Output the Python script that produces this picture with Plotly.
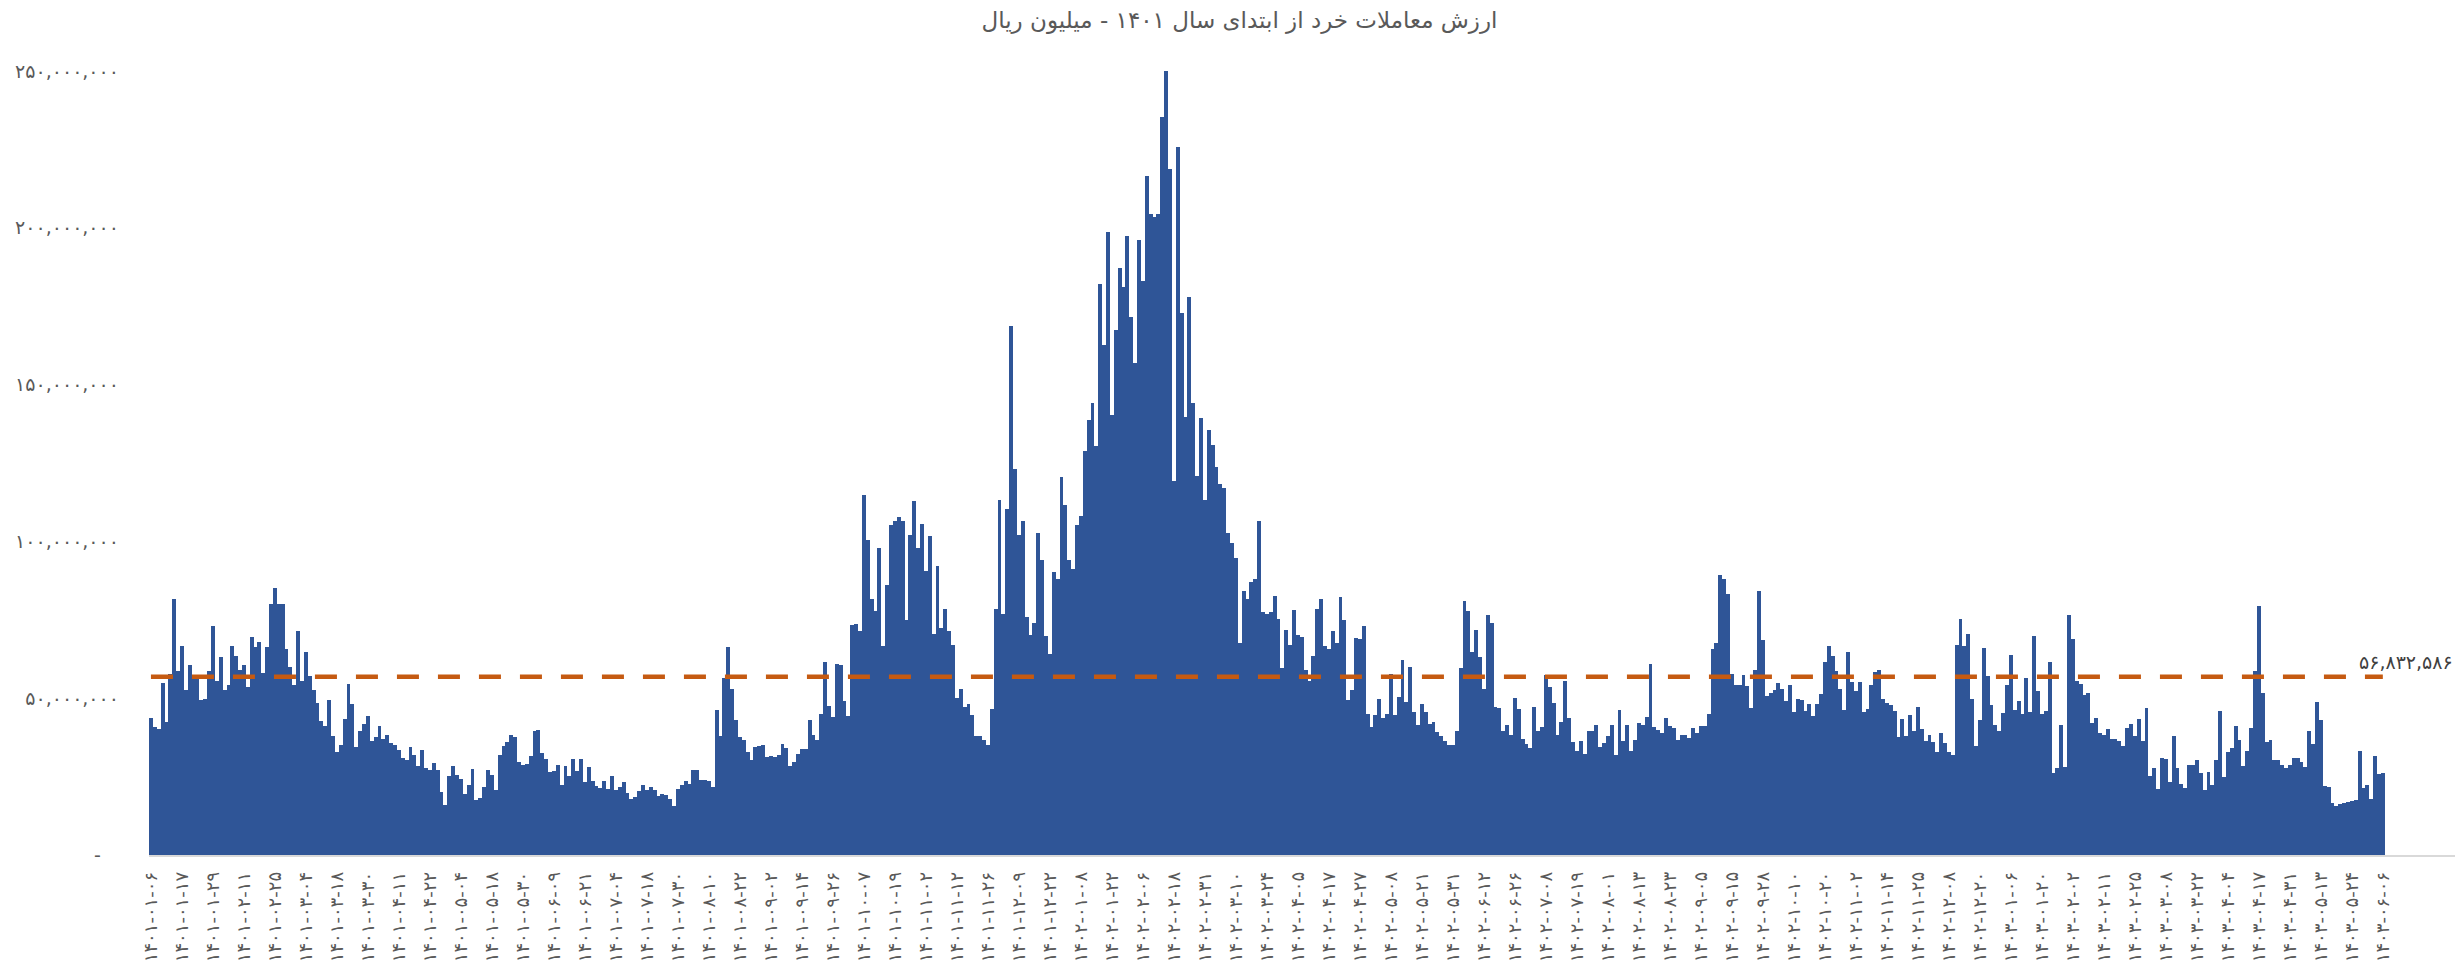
import plotly.graph_objects as go

# ---- Data (values in million rials) ----
values_part1 = [43.7, 40.8, 40.2, 54.8, 42.3, 57.7, 81.7, 58.6, 66.7, 52.7,
                60.7, 57.0, 56.4, 49.5, 49.8, 58.6, 72.9, 55.4, 63.0, 52.7,
                54.1, 66.7, 63.5, 58.9, 60.5, 53.5, 69.6, 66.2, 67.8, 58.0,
                66.3, 80.0, 85.1, 80.0, 80.0, 65.7, 59.9, 54.3, 71.3, 55.4,
                64.6, 57.0, 52.7, 48.5, 42.6, 41.0, 49.4, 38.0, 32.7, 35.2,
                43.5, 54.5, 48.1, 34.4, 39.7, 41.9, 44.4, 36.2, 37.5, 41.0,
                37.1, 38.2, 35.7, 35.2, 33.4, 30.9, 30.4, 34.3, 32.0, 28.3,
                33.5, 27.9, 27.2, 29.2, 27.2, 20.1, 16.0, 25.3, 28.4, 25.4,
                24.3, 19.4, 22.4, 27.4, 17.6, 18.2, 21.6, 27.2, 25.6, 20.6,
                32.0, 34.6, 36.0, 38.3, 37.6, 29.6, 28.8]

values_part2 = [29.1, 31.5, 39.6, 40.0, 32.5, 30.6, 26.5, 26.9, 28.6, 22.4,
                28.5, 25.1, 30.7, 26.7, 30.6, 23.2, 28.1, 23.5, 22.1, 21.4,
                23.5, 21.0, 25.1, 20.6, 21.6, 23.2, 19.8, 17.9, 18.4, 20.3,
                22.2, 20.8, 21.7, 20.6, 18.9, 19.6, 19.2, 18.0, 15.7, 21.1,
                22.4, 23.5, 22.6, 27.2, 27.2, 24.0, 23.8, 23.7, 21.7, 46.3,
                37.8, 56.4, 66.2, 52.9, 43.1, 37.5, 36.6, 32.7, 30.4, 34.4,
                34.6, 35.0, 31.1, 31.5, 31.1, 32.0, 35.4, 34.1, 28.3, 29.6,
                32.3, 33.8, 33.9, 43.1, 38.4, 36.8, 45.0, 61.5, 47.6, 43.9,
                60.9, 60.7, 49.0, 44.2, 73.4, 73.6, 71.5, 114.7, 100.3, 81.6,
                77.9, 97.9, 66.7, 86.2, 105.3, 106.4, 107.7]

values_part3 = [106.5, 74.8, 102.0, 112.8, 97.9, 105.7, 90.5, 101.7, 70.6, 92.1,
                72.3, 78.4, 71.5, 67.0, 50.0, 53.0, 47.2, 48.3, 44.5, 38.1,
                37.9, 36.8, 35.1, 46.7, 78.6, 113.1, 76.7, 110.3, 168.7, 123.2,
                102.0, 106.6, 75.9, 70.1, 73.9, 102.7, 94.1, 69.8, 64.0, 90.1,
                88.0, 120.5, 111.6, 94.1, 91.3, 105.3, 108.1, 128.8, 138.7, 144.1,
                130.4, 182.0, 162.6, 198.7, 140.4, 167.3, 187.1, 181.0, 197.5, 171.4,
                156.9, 196.2, 183.0, 216.5, 204.4, 203.3, 204.4, 235.3, 249.9, 218.8,
                119.4, 225.9, 172.7, 139.7, 178.0, 144.1, 121.0, 139.2, 113.1, 135.4,
                130.9, 123.8, 118.2, 116.9, 102.8, 99.5, 94.6, 67.7, 84.2, 81.7,
                87.1, 88.0, 106.5, 77.6, 76.9, 77.6, 82.7]

values_part4 = [75.2, 59.6, 71.8, 67.1, 78.0, 70.2, 69.5, 59.1, 55.4, 63.3,
                78.4, 81.6, 66.5, 65.8, 71.5, 67.6, 82.3, 75.0, 49.3, 52.7,
                69.2, 69.0, 72.9, 45.1, 40.8, 44.5, 49.7, 43.7, 45.0, 57.7,
                44.7, 50.3, 62.3, 48.7, 60.1, 45.5, 41.3, 48.1, 45.6, 41.9,
                42.4, 39.2, 37.8, 36.2, 35.2, 35.2, 39.7, 59.6, 81.1, 77.7,
                64.6, 71.6, 63.0, 52.9, 76.4, 74.0, 47.1, 46.9, 39.4, 41.6,
                38.2, 50.1, 46.7, 37.0, 35.4, 34.1, 47.2, 39.4, 40.7, 57.5,
                53.5, 48.5, 38.2, 42.3, 55.6, 43.7, 36.0, 33.3, 36.5, 32.2,
                39.4, 39.4, 41.6, 34.3, 35.7, 37.8, 41.6, 32.0, 46.3, 36.2,
                41.6, 33.3, 36.6, 42.1, 41.3, 44.1, 60.9]

values_part5 = [40.7, 40.0, 38.9, 43.7, 41.0, 40.5, 36.8, 38.2, 38.2, 37.3,
                40.5, 38.9, 41.2, 41.0, 45.1, 65.7, 67.6, 89.4, 88.1, 83.3,
                57.8, 54.3, 54.1, 57.5, 54.0, 46.9, 59.1, 84.1, 68.7, 50.6,
                51.6, 52.7, 54.8, 52.9, 49.0, 54.1, 45.6, 49.8, 49.5, 45.8,
                48.2, 44.2, 48.2, 51.4, 61.4, 66.5, 63.3, 58.6, 53.0, 46.1,
                64.7, 55.2, 52.2, 55.2, 45.6, 46.7, 54.3, 58.2, 59.1, 49.7,
                48.5, 47.9, 45.8, 37.6, 43.4, 37.8, 44.5, 39.4, 47.1, 40.2,
                36.2, 38.4, 35.9, 32.8, 38.9, 35.7, 33.0, 32.0, 67.1, 75.2,
                66.5, 70.5, 49.8, 34.6, 43.1, 66.0, 57.0, 47.9, 41.6, 39.4,
                45.3, 54.1, 63.9, 46.3, 49.0, 45.0, 56.6]

values_part6 = [45.6, 69.9, 52.4, 45.0, 46.0, 61.5, 26.1, 27.7, 41.3, 28.1,
                76.6, 68.9, 55.6, 54.6, 51.1, 51.6, 42.1, 43.7, 38.9, 38.2,
                40.3, 37.1, 37.1, 36.5, 34.9, 40.5, 41.9, 38.0, 43.4, 36.5,
                46.9, 25.1, 27.7, 21.1, 30.9, 30.7, 23.3, 37.8, 27.7, 22.6,
                21.4, 28.8, 28.8, 30.2, 26.1, 20.8, 26.4, 22.2, 30.4, 46.0,
                24.8, 33.0, 34.1, 41.2, 36.8, 28.5, 33.3, 40.5, 58.8, 79.5,
                51.6, 36.0, 36.6, 30.2, 30.4, 28.8, 27.9, 28.8, 30.9, 30.9,
                29.6, 28.1, 39.7, 35.5, 48.8, 43.1, 21.9, 21.6, 16.6, 15.7,
                16.4, 16.6, 16.8, 17.3, 17.6, 33.3, 21.4, 22.2, 17.9, 31.5,
                25.9, 26.1]

AVERAGE_VALUE = 56832586

tick_labels_latin = [
    "1401-01-06", "1401-01-17", "1401-01-29", "1401-02-11", "1401-02-25", "1401-03-04",
    "1401-03-18", "1401-03-30", "1401-04-11", "1401-04-22", "1401-05-04", "1401-05-18",
    "1401-05-30", "1401-06-09", "1401-06-21", "1401-07-04", "1401-07-18", "1401-07-30",
    "1401-08-10", "1401-08-22", "1401-09-02", "1401-09-14", "1401-09-26", "1401-10-07",
    "1401-10-19", "1401-11-02", "1401-11-12", "1401-11-26", "1401-12-09", "1401-12-22",
    "1402-01-08", "1402-01-22", "1402-02-06", "1402-02-18", "1402-02-31", "1402-03-10",
    "1402-03-24", "1402-04-05", "1402-04-17", "1402-04-27", "1402-05-08", "1402-05-21",
    "1402-05-31", "1402-06-12", "1402-06-26", "1402-07-08", "1402-07-19", "1402-08-01",
    "1402-08-13", "1402-08-23", "1402-09-05", "1402-09-15", "1402-09-28", "1402-10-10",
    "1402-10-20", "1402-11-02", "1402-11-14", "1402-11-25", "1402-12-08", "1402-12-20",
    "1403-01-06", "1403-01-20", "1403-02-02", "1403-02-11", "1403-02-25", "1403-03-08",
    "1403-03-22", "1403-04-04", "1403-04-17", "1403-04-31", "1403-05-13", "1403-05-24",
    "1403-06-06",
]

y_tick_values = [0, 50000000, 100000000, 150000000, 200000000, 250000000]

TITLE = "ارزش معاملات خرد از ابتدای سال ۱۴۰۱ - میلیون ریال"

# ---- Build ----
PERSIAN = str.maketrans("0123456789", "۰۱۲۳۴۵۶۷۸۹")

values_m = values_part1 + values_part2 + values_part3 + values_part4 + values_part5 + values_part6
values = [v * 1_000_000 for v in values_m]
n = len(values)
x_idx = list(range(n))

tick_positions = list(range(0, n, 8))[: len(tick_labels_latin)]
tick_labels = [t.translate(PERSIAN) for t in tick_labels_latin][: len(tick_positions)]

y_tick_text = ["-\u00a0\u00a0\u00a0"] + [f"{v:,}".translate(PERSIAN) for v in y_tick_values[1:]]
avg_label = f"{AVERAGE_VALUE:,}".translate(PERSIAN)

FONT = "DejaVu Sans"
GRAY = "#595959"

fig = go.Figure()
fig.add_trace(go.Bar(
    x=x_idx, y=values,
    marker=dict(color="#2F5597", line=dict(width=0)),
    name="value",
))
fig.add_trace(go.Scatter(
    x=x_idx, y=[AVERAGE_VALUE] * n,
    mode="lines",
    line=dict(color="#C55A11", width=4.5, dash="22px,19px"),
    name="average",
))

fig.add_annotation(
    x=n - 1, y=AVERAGE_VALUE, xref="x", yref="y",
    text=avg_label, showarrow=False,
    xanchor="left", yanchor="bottom", xshift=-26, yshift=2,
    font=dict(family=FONT, size=19, color="#404040"),
)

fig.update_layout(
    width=2463, height=973,
    margin=dict(l=141, r=13, t=63, b=126),
    paper_bgcolor="white", plot_bgcolor="white",
    showlegend=False,
    bargap=0,
    title=dict(text=TITLE, x=0.5, xanchor="center", yref="container", y=0.988, yanchor="middle",
               font=dict(family=FONT, size=23, color=GRAY)),
    font=dict(family=FONT, color=GRAY),
)
fig.update_xaxes(
    range=[-0.5, 595.4], automargin=False,
    tickmode="array", tickvals=tick_positions, ticktext=tick_labels,
    tickangle=-90, ticks="", ticklabelstandoff=8,
    tickfont=dict(family=FONT, size=18, color=GRAY),
    showgrid=False, zeroline=False,
    showline=True, linecolor="#D9D9D9", linewidth=1.5,
)
fig.update_yaxes(
    range=[0, 250000000], automargin=False,
    tickmode="array", tickvals=y_tick_values, ticktext=y_tick_text,
    ticks="", ticklabelstandoff=29,
    tickfont=dict(family=FONT, size=19, color=GRAY),
    showgrid=False, zeroline=False, showline=False,
)

fig.write_html("out.html")
